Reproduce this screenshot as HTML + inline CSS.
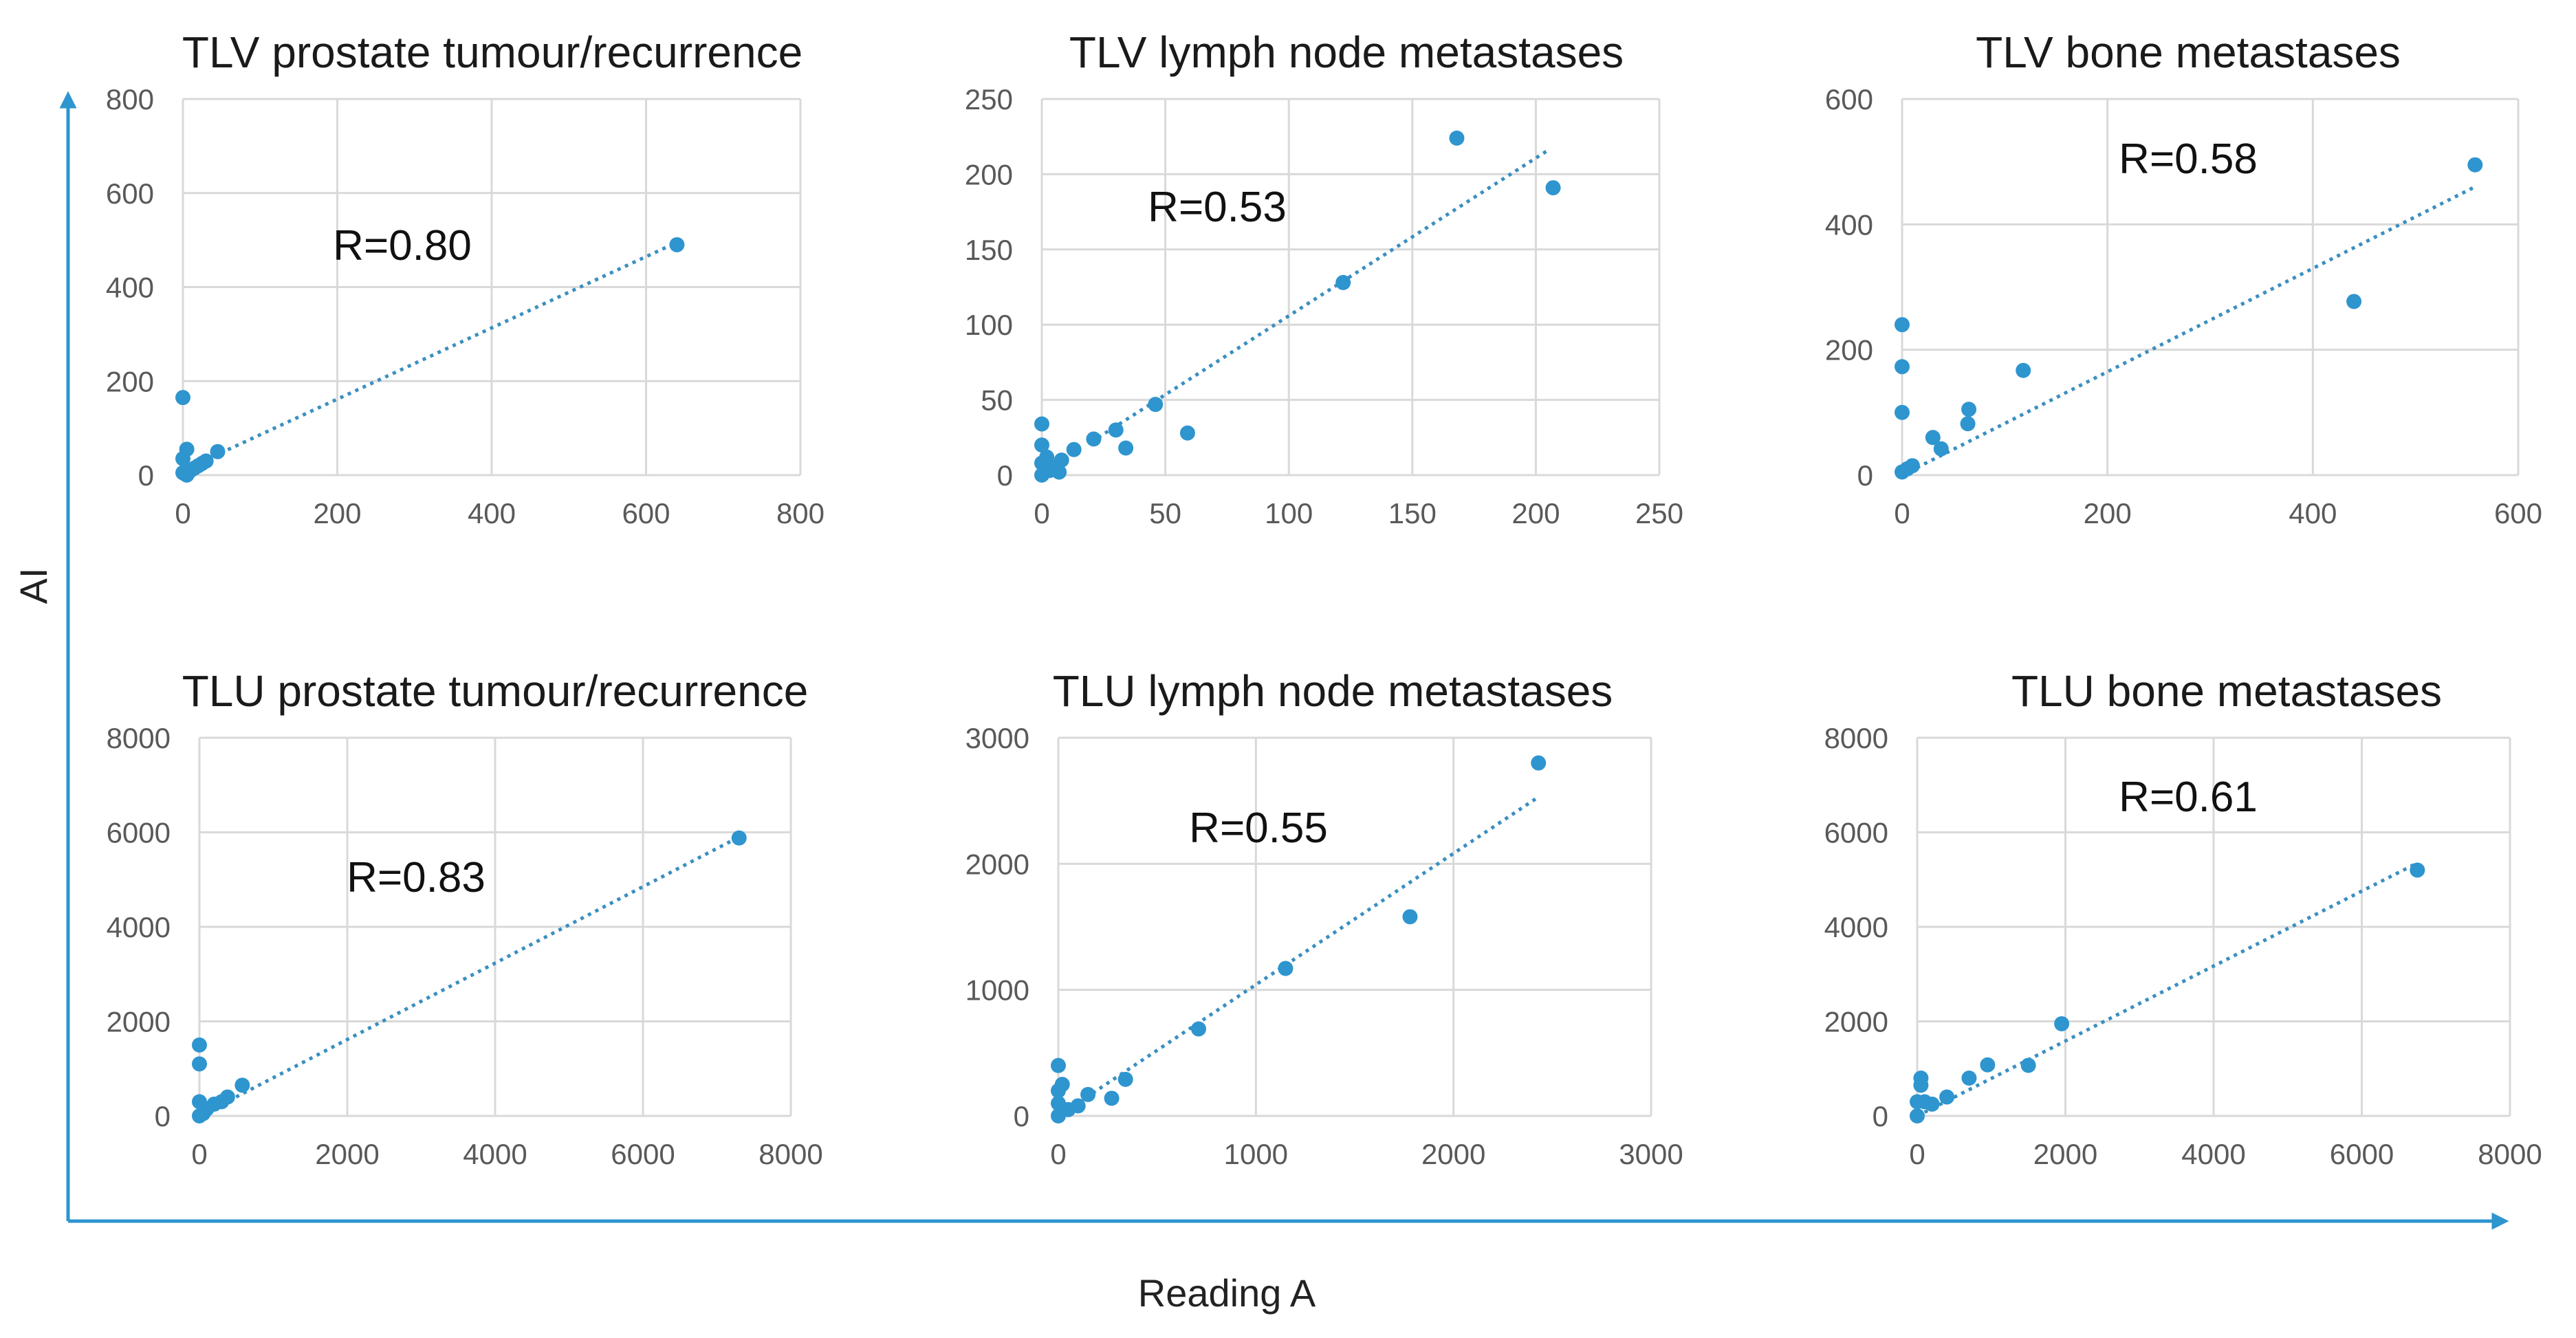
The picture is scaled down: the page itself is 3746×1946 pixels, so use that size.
<!DOCTYPE html>
<html><head><meta charset="utf-8"><style>
body{margin:0;background:#fff}
svg{display:block}
text{font-family:"Liberation Sans Narrow","Liberation Sans",sans-serif}
</style></head><body>
<svg id="fig" width="3746" height="1946" viewBox="0 0 3746 1946" xmlns="http://www.w3.org/2000/svg">
<defs><marker id="arr" viewBox="0 0 10 10" refX="5" refY="5" markerWidth="5" markerHeight="5" orient="auto"><path d="M0,0L10,5L0,10z" fill="#2e95cf"/></marker></defs>
<line x1="99" y1="1776" x2="99" y2="145" stroke="#2e95cf" stroke-width="5" marker-end="url(#arr)"/>
<line x1="99" y1="1776" x2="3636" y2="1776" stroke="#2e95cf" stroke-width="5" marker-end="url(#arr)"/>
<text transform="translate(68,852) rotate(-90)" text-anchor="middle" font-size="56" fill="#222">AI</text>
<text x="1784" y="1900" text-anchor="middle" font-size="56" fill="#222">Reading A</text>
<g id="panels"></g>
</svg>
<script>
// Panel 1: TLV prostate
const p1X=[640,0,5,45,30,20,10,0,0,5,15,25,3];
const p1Y=[490,165,55,50,30,20,10,35,5,0,15,25,2];
const p1Ticks=[0,200,400,600,800];
// Panel 2: TLV lymph node
const p2X=[168,207,122,46,59,30,34,21,13,0,0,8,5,0,2,7,3,0];
const p2Y=[224,191,128,47,28,30,18,24,17,34,20,10,5,0,12,2,3,8];
const p2Ticks=[0,50,100,150,200,250];
// Panel 3: TLV bone
const p3X=[558,440,118,65,64,30,38,0,0,0,10,0,5];
const p3Y=[495,277,167,105,82,60,42,240,173,100,15,5,10];
const p3Ticks=[0,200,400,600];
// Panel 4: TLU prostate
const p4X=[7300,0,0,580,380,200,100,0,0,50,300];
const p4Y=[5880,1500,1100,650,400,250,150,300,0,50,300];
const p4Ticks=[0,2000,4000,6000,8000];
// Panel 5: TLU lymph node
const p5X=[2430,1780,1150,710,340,270,150,0,0,0,50,100,0,20];
const p5Y=[2800,1580,1170,690,290,140,170,400,200,100,50,80,0,250];
const p5Ticks=[0,1000,2000,3000];
// Panel 6: TLU bone
const p6X=[6750,1950,1500,950,700,400,200,50,50,0,100,0];
const p6Y=[5200,1950,1070,1080,800,400,250,800,650,300,300,0];
const p6Ticks=[0,2000,4000,6000,8000];
// trend lines [x0,y0,x1,y1]
const trends=[[0,10,640,495],[20,22,205,216],[0,0,558,460],[0,0,7300,5900],[0,0,2430,2530],[0,0,6750,5350]];
const titles=["TLV prostate tumour/recurrence","TLV lymph node metastases","TLV bone metastases","TLU prostate tumour/recurrence","TLU lymph node metastases","TLU bone metastases"];
const rLabels=["R=0.80","R=0.53","R=0.58","R=0.83","R=0.55","R=0.61"];

const layout=[
 {l:266,r:1164,t:144,b:691,tx:716,rx:585,ry:356},
 {l:1515,r:2413,t:144,b:691,tx:1958,rx:1770,ry:300},
 {l:2766,r:3662,t:144,b:691,tx:3182,rx:3182,ry:230},
 {l:290,r:1150,t:1073,b:1623,tx:720,rx:605,ry:1275},
 {l:1539,r:2401,t:1073,b:1623,tx:1938,rx:1830,ry:1203},
 {l:2788,r:3650,t:1073,b:1623,tx:3238,rx:3182,ry:1158}];
const XS=[p1X,p2X,p3X,p4X,p5X,p6X],YS=[p1Y,p2Y,p3Y,p4Y,p5Y,p6Y],TK=[p1Ticks,p2Ticks,p3Ticks,p4Ticks,p5Ticks,p6Ticks];
const NS="http://www.w3.org/2000/svg";
const root=document.getElementById('panels');
function mk(tag,attrs,par){const e=document.createElementNS(NS,tag);for(const k in attrs)e.setAttribute(k,attrs[k]);par.appendChild(e);return e;}
for(let i=0;i<6;i++){
 const L=layout[i],tk=TK[i],max=tk[tk.length-1];
 const sx=v=>L.l+(v/max)*(L.r-L.l), sy=v=>L.b-(v/max)*(L.b-L.t);
 const g=mk('g',{},root);
 
 
 const t=mk('text',{x:L.tx,y:L.t-46,'text-anchor':'middle','font-size':64,fill:'#1a1a1a'},g);t.textContent=titles[i];
 
 
 tk.forEach(v=>{
  const gx=mk('line',{x1:sx(v),x2:sx(v),y1:L.t,y2:L.b,stroke:'#d9d9d9','stroke-width':3},g);
  
  
  const gy=mk('line',{x1:L.l,x2:L.r,y1:sy(v),y2:sy(v),stroke:'#d9d9d9','stroke-width':3},g);
  
  
  const xl=mk('text',{x:sx(v),y:L.b+70,'text-anchor':'middle','font-size':42,fill:'#595959'},g);xl.textContent=v;
  
  
  const yl=mk('text',{x:L.l-42,y:sy(v)+15,'text-anchor':'end','font-size':42,fill:'#595959'},g);yl.textContent=v;
  
  
 });
 const tr=trends[i];
 const ln=mk('line',{x1:sx(tr[0]),y1:sy(tr[1]),x2:sx(tr[2]),y2:sy(tr[3]),stroke:'#3a8fc0','stroke-width':5,'stroke-dasharray':'5 7'},g);
 
 
 XS[i].forEach((x,j)=>{
  const c=mk('circle',{cx:sx(x),cy:sy(YS[i][j]),r:11,fill:'#2e95cf'},g);
  
  
 });
 const r=mk('text',{x:L.rx,y:L.ry+22,'text-anchor':'middle','font-size':62,fill:'#111'},g);r.textContent=rLabels[i];
 
 
}
</script>
</body></html>
